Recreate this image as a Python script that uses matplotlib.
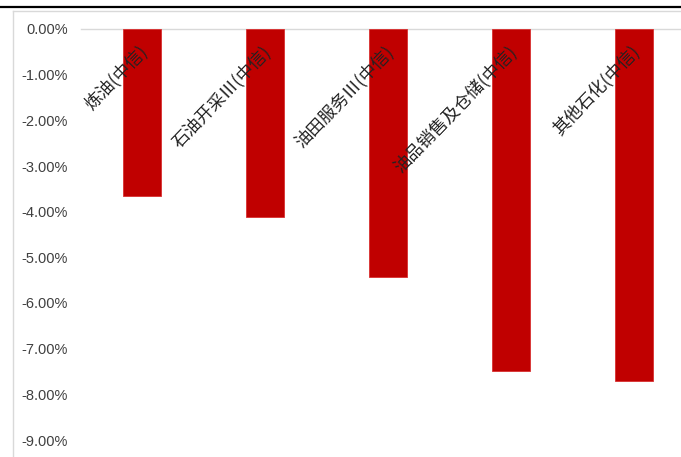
import matplotlib
matplotlib.use("Agg")
import matplotlib.pyplot as plt
from matplotlib.lines import Line2D
from matplotlib import transforms, font_manager
import numpy as np

categories = ["炼油(中信)", "石油开采Ⅲ(中信)", "油田服务Ⅲ(中信)", "油品销售及仓储(中信)", "其他石化(中信)"]
values = [-3.66, -4.12, -5.43, -7.49, -7.71]
yticks = [0, -1, -2, -3, -4, -5, -6, -7, -8, -9]

names = {f.name for f in font_manager.fontManager.ttflist}
tick_font = "Liberation Sans Narrow" if "Liberation Sans Narrow" in names else "Liberation Sans"

fig = plt.figure(figsize=(6.81, 4.57), dpi=100)
W, H = 681, 457
ax = fig.add_axes([80.5 / W, (H - 440) / H, 615 / W, 411 / H])

x = np.arange(len(categories))
ax.bar(x, values, width=0.31, color="#C00000", edgecolor="#D83030", linewidth=0.6, zorder=2)
ax.set_xlim(-0.5, 4.5)
ax.set_ylim(-9, 0)
ax.set_yticks(yticks)
ax.set_yticklabels([f"{v:.2f}%" for v in yticks], fontsize=10.5, color="#404040", family=tick_font)
ax.tick_params(axis="y", length=0, pad=9)
ax.set_xticks([])
for s in ["left", "right", "bottom"]:
    ax.spines[s].set_visible(False)
ax.spines["top"].set_color("#D9D9D9")
ax.spines["top"].set_linewidth(1.0)
ax.spines["top"].set_zorder(1)

trans = transforms.offset_copy(ax.transData, fig=fig, x=-4, y=-13, units="dots")
for xi, lab in zip(x, categories):
    ax.text(xi, 0, lab, transform=trans, rotation=46, rotation_mode="anchor",
            ha="right", va="top", fontsize=12.5, color="#222222",
            family=["Noto Sans CJK SC", "DejaVu Sans"], zorder=3)

# chart border lines
fig.add_artist(Line2D([0, 1], [1 - 7 / H, 1 - 7 / H], color="black", linewidth=1.6, transform=fig.transFigure))
fig.add_artist(Line2D([13 / W, 1], [1 - 11 / H, 1 - 11 / H], color="#D9D9D9", linewidth=1.0, transform=fig.transFigure))
fig.add_artist(Line2D([13 / W, 13 / W], [0, 1 - 11 / H], color="#D9D9D9", linewidth=1.0, transform=fig.transFigure))

fig.savefig("out.png", dpi=100)
